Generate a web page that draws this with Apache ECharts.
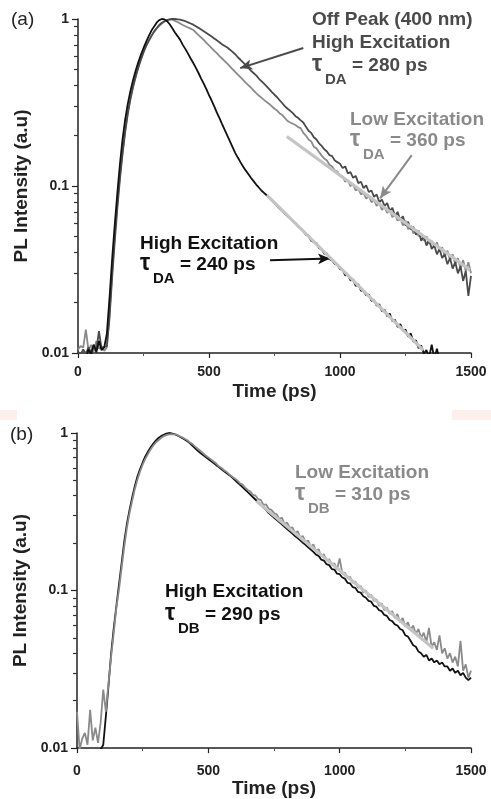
<!DOCTYPE html>
<html>
<head>
<meta charset="utf-8">
<script src="https://cdn.jsdelivr.net/npm/echarts@6/dist/echarts.min.js"></script>
<style>
  html, body { margin: 0; padding: 0; background: #fff; }
  #chart { width: 491px; height: 799px; }
</style>
</head>
<body>
<div id="chart"></div>
<script>
// time axis (ps), one sample every 10 ps
const time = [
  0, 10, 20, 30, 40, 50, 60, 70, 80, 90, 100,
  110, 120, 130, 140, 150, 160, 170, 180, 190, 200,
  210, 220, 230, 240, 250, 260, 270, 280, 290, 300,
  310, 320, 330, 340, 350, 360, 370, 380, 390, 400,
  410, 420, 430, 440, 450, 460, 470, 480, 490, 500,
  510, 520, 530, 540, 550, 560, 570, 580, 590, 600,
  610, 620, 630, 640, 650, 660, 670, 680, 690, 700,
  710, 720, 730, 740, 750, 760, 770, 780, 790, 800,
  810, 820, 830, 840, 850, 860, 870, 880, 890, 900,
  910, 920, 930, 940, 950, 960, 970, 980, 990, 1000,
  1010, 1020, 1030, 1040, 1050, 1060, 1070, 1080, 1090, 1100,
  1110, 1120, 1130, 1140, 1150, 1160, 1170, 1180, 1190, 1200,
  1210, 1220, 1230, 1240, 1250, 1260, 1270, 1280, 1290, 1300,
  1310, 1320, 1330, 1340, 1350, 1360, 1370, 1380, 1390, 1400,
  1410, 1420, 1430, 1440, 1450, 1460, 1470, 1480, 1490, 1500
];

// (a) on peak, high excitation (black)
const aHigh = [
  0.009, 0.0095, 0.0098, 0.0092, 0.0105, 0.0098, 0.0112, 0.0101, 0.0118, 0.0104, 0.0108,
  0.013, 0.021, 0.036, 0.058, 0.09, 0.135, 0.19, 0.25, 0.31, 0.37,
  0.43, 0.49, 0.55, 0.61, 0.67, 0.73, 0.79, 0.85, 0.9, 0.95,
  0.985, 1.0, 0.995, 0.97, 0.93, 0.88, 0.83, 0.79, 0.75, 0.70,
  0.66, 0.62, 0.58, 0.545, 0.51, 0.475, 0.44, 0.41, 0.38, 0.35,
  0.325, 0.3, 0.275, 0.255, 0.235, 0.217, 0.2, 0.185, 0.171, 0.158,
  0.148, 0.139, 0.131, 0.124, 0.118, 0.112, 0.107, 0.102, 0.098, 0.094,
  0.091, 0.088, 0.085, 0.082, 0.079, 0.076, 0.073, 0.071, 0.068, 0.066,
  0.064, 0.0615, 0.0598, 0.0572, 0.0556, 0.0538, 0.051, 0.0505, 0.047, 0.0462,
  0.0455, 0.0425, 0.0418, 0.0392, 0.0395, 0.0365, 0.0358, 0.0342, 0.0338, 0.0318,
  0.0315, 0.0292, 0.0294, 0.0272, 0.0276, 0.0252, 0.0258, 0.0236, 0.0234, 0.0222,
  0.0224, 0.0205, 0.0207, 0.0192, 0.0196, 0.0178, 0.0181, 0.0166, 0.0172, 0.0155,
  0.0158, 0.0143, 0.0149, 0.0136, 0.0138, 0.0125, 0.0131, 0.0117, 0.0119, 0.0107,
  0.0111, 0.0099, 0.0104, 0.0094, 0.0112, 0.0093, 0.0106, 0.0091, 0.0088, 0.0086,
  0.0085, 0.0084, 0.0083, 0.0082, 0.0081, 0.008, 0.0079, 0.0078, 0.0077, 0.0076
];

// (a) off peak (400 nm), high excitation (dark grey)
const aOffPeak = [
  0.0102, 0.0098, 0.0105, 0.0099, 0.0108, 0.0101, 0.0112, 0.0104, 0.0135, 0.0106, 0.0109,
  0.011, 0.016, 0.028, 0.046, 0.073, 0.11, 0.155, 0.21, 0.27, 0.33,
  0.39, 0.45, 0.51, 0.57, 0.63, 0.69, 0.74, 0.79, 0.84, 0.88,
  0.92, 0.95, 0.97, 0.985, 0.995, 1.0, 1.0, 0.995, 0.99, 0.98,
  0.97, 0.955, 0.94, 0.925, 0.905, 0.885, 0.865, 0.845, 0.825, 0.805,
  0.785, 0.765, 0.745, 0.725, 0.705, 0.69, 0.675, 0.655, 0.635, 0.615,
  0.59, 0.57, 0.55, 0.53, 0.51, 0.49, 0.475, 0.46, 0.44, 0.425,
  0.41, 0.395, 0.38, 0.365, 0.352, 0.34, 0.326, 0.313, 0.3, 0.29,
  0.282, 0.273, 0.262, 0.256, 0.247, 0.24, 0.226, 0.214, 0.208, 0.196,
  0.19, 0.18, 0.174, 0.166, 0.161, 0.153, 0.151, 0.142, 0.139, 0.136,
  0.128, 0.131, 0.119, 0.121, 0.112, 0.115, 0.104, 0.106, 0.097, 0.101,
  0.092, 0.094, 0.086, 0.089, 0.08, 0.083, 0.076, 0.079, 0.071, 0.074,
  0.066, 0.07, 0.062, 0.066, 0.058, 0.061, 0.055, 0.057, 0.051, 0.054,
  0.047, 0.05, 0.044, 0.048, 0.042, 0.044, 0.039, 0.042, 0.037, 0.039,
  0.034, 0.037, 0.032, 0.035, 0.03, 0.033, 0.027, 0.031, 0.022, 0.029
];

// (a) on peak, low excitation (grey)
const aLow = [
  0.0105, 0.011, 0.0108, 0.0138, 0.0104, 0.0112, 0.0102, 0.0118, 0.0106, 0.011, 0.0103,
  0.0108, 0.017, 0.03, 0.05, 0.078, 0.115, 0.16, 0.215, 0.275, 0.335,
  0.395, 0.455, 0.515, 0.575, 0.635, 0.69, 0.74, 0.79, 0.835, 0.875,
  0.91, 0.94, 0.965, 0.985, 0.995, 0.99, 0.975, 0.96, 0.94, 0.92,
  0.905, 0.89, 0.875, 0.86, 0.83, 0.8, 0.775, 0.75, 0.72, 0.695,
  0.67, 0.645, 0.625, 0.6, 0.58, 0.56, 0.54, 0.52, 0.5, 0.483,
  0.465, 0.448, 0.432, 0.416, 0.402, 0.388, 0.374, 0.36, 0.348, 0.338,
  0.328, 0.318, 0.31, 0.3, 0.29, 0.283, 0.272, 0.266, 0.255, 0.245,
  0.24, 0.236, 0.232, 0.225, 0.222, 0.208, 0.2, 0.19, 0.185, 0.172,
  0.168, 0.16, 0.152, 0.146, 0.142, 0.134, 0.131, 0.124, 0.122, 0.115,
  0.114, 0.106, 0.108, 0.1, 0.102, 0.094, 0.096, 0.089, 0.091, 0.084,
  0.087, 0.08, 0.082, 0.076, 0.079, 0.072, 0.075, 0.069, 0.072, 0.065,
  0.068, 0.062, 0.065, 0.058, 0.062, 0.055, 0.058, 0.052, 0.055, 0.05,
  0.052, 0.047, 0.05, 0.045, 0.047, 0.043, 0.046, 0.041, 0.043, 0.038,
  0.041, 0.036, 0.039, 0.034, 0.037, 0.032, 0.036, 0.031, 0.035, 0.03
];

// (b) high excitation (black)
const bHigh = [
  0.009, 0.0092, 0.0088, 0.0094, 0.009, 0.0093, 0.0089, 0.0095, 0.0092, 0.0098, 0.0105,
  0.016, 0.025, 0.04, 0.058, 0.08, 0.11, 0.15, 0.205, 0.265, 0.325,
  0.39, 0.46, 0.53, 0.59, 0.65, 0.71, 0.76, 0.81, 0.855, 0.895,
  0.93, 0.955, 0.975, 0.99, 1.0, 0.995, 0.985, 0.97, 0.95, 0.93,
  0.91, 0.885, 0.86, 0.83, 0.8, 0.77, 0.745, 0.724, 0.703, 0.683,
  0.663, 0.644, 0.625, 0.607, 0.589, 0.572, 0.556, 0.54, 0.523, 0.505,
  0.487, 0.47, 0.453, 0.437, 0.421, 0.406, 0.391, 0.377, 0.363, 0.35,
  0.337, 0.324, 0.31, 0.30, 0.29, 0.281, 0.272, 0.263, 0.254, 0.246,
  0.238, 0.23, 0.222, 0.215, 0.208, 0.201, 0.195, 0.188, 0.182, 0.176,
  0.169, 0.166, 0.157, 0.155, 0.147, 0.145, 0.137, 0.136, 0.128, 0.127,
  0.121, 0.119, 0.112, 0.111, 0.105, 0.104, 0.098, 0.097, 0.092, 0.09,
  0.086, 0.085, 0.08, 0.079, 0.075, 0.074, 0.07, 0.069, 0.065, 0.064,
  0.061, 0.06, 0.057, 0.056, 0.052, 0.051, 0.048, 0.045, 0.044, 0.041,
  0.04, 0.038, 0.039, 0.036, 0.037, 0.035, 0.036, 0.034, 0.035, 0.033,
  0.033, 0.031, 0.032, 0.03, 0.031, 0.029, 0.03, 0.028, 0.027, 0.028
];

// (b) low excitation (grey)
const bLow = [
  0.017, 0.0098, 0.0115, 0.0125, 0.0105, 0.0175, 0.0112, 0.0135, 0.0108, 0.0145, 0.0235,
  0.017, 0.026, 0.038, 0.054, 0.078, 0.102, 0.14, 0.19, 0.25, 0.31,
  0.37, 0.44, 0.505, 0.57, 0.63, 0.685, 0.735, 0.785, 0.83, 0.87,
  0.9, 0.93, 0.955, 0.97, 0.98, 0.985, 0.98, 0.975, 0.955, 0.94,
  0.92, 0.9, 0.87, 0.85, 0.82, 0.795, 0.77, 0.745, 0.72, 0.7,
  0.68, 0.66, 0.64, 0.615, 0.6, 0.58, 0.565, 0.545, 0.53, 0.515,
  0.5, 0.48, 0.47, 0.45, 0.435, 0.425, 0.405, 0.4, 0.38, 0.375,
  0.35, 0.352, 0.33, 0.325, 0.31, 0.305, 0.285, 0.29, 0.265, 0.27,
  0.25, 0.252, 0.232, 0.238, 0.218, 0.222, 0.203, 0.208, 0.19, 0.196,
  0.178, 0.183, 0.165, 0.17, 0.155, 0.158, 0.146, 0.149, 0.136, 0.16,
  0.128, 0.13, 0.12, 0.122, 0.112, 0.114, 0.104, 0.107, 0.097, 0.1,
  0.091, 0.094, 0.086, 0.088, 0.08, 0.083, 0.075, 0.078, 0.071, 0.074,
  0.067, 0.071, 0.063, 0.067, 0.059, 0.063, 0.056, 0.06, 0.053, 0.057,
  0.05, 0.054, 0.047, 0.058, 0.044, 0.047, 0.042, 0.052, 0.04, 0.043,
  0.037, 0.04, 0.035, 0.038, 0.033, 0.048, 0.031, 0.034, 0.028, 0.031
];

// exponential fits (end points)
const aFitHighT = [721, 1318];
const aFitHighV = [0.0883, 0.0104];
const aFitLowT = [797, 1496];
const aFitLowV = [0.198, 0.0314];
const bFitT = [683, 1356];
const bFitV = [0.37, 0.043];

const xTicks = [0, 500, 1000, 1500];
const yMinor = [0.02, 0.03, 0.04, 0.05, 0.06, 0.07, 0.08, 0.09,
                0.2, 0.3, 0.4, 0.5, 0.6, 0.7, 0.8, 0.9];

const FONT = 'Liberation Sans, Arial, Helvetica, sans-serif';
const AXIS = '#222';

function pairs(t, v) {
  return t.map((x, i) => [x, v[i]]);
}

function xAxisFor(gridIndex, labelMargin, nameGap) {
  return {
    gridIndex: gridIndex,
    type: 'value',
    min: xTicks[0],
    max: xTicks[xTicks.length - 1],
    interval: 500,
    name: 'Time (ps)',
    nameLocation: 'middle',
    nameGap: nameGap,
    nameTextStyle: { fontFamily: FONT, fontWeight: 'bold', fontSize: 19, color: AXIS },
    axisLine: { lineStyle: { color: AXIS, width: 1.5 } },
    axisTick: { length: 5, lineStyle: { color: AXIS, width: 1.2 } },
    minorTick: { show: true, splitNumber: 2, length: 3, lineStyle: { color: '#555', width: 1 } },
    axisLabel: {
      margin: labelMargin, fontFamily: FONT, fontWeight: 'bold', fontSize: 14, color: AXIS,
      formatter: v => String(v)
    },
    splitLine: { show: false }
  };
}

function yAxisFor(gridIndex) {
  return {
    gridIndex: gridIndex,
    type: 'log',
    logBase: 10,
    min: 0.01,
    max: 1,
    name: 'PL Intensity (a.u)',
    nameLocation: 'middle',
    nameGap: 36,
    nameTextStyle: { fontFamily: FONT, fontWeight: 'bold', fontSize: 19, color: AXIS },
    axisLine: { show: true, lineStyle: { color: AXIS, width: 1.5 } },
    axisTick: { show: true, length: 6, lineStyle: { color: AXIS, width: 1.2 } },
    axisLabel: {
      margin: 9, fontFamily: FONT, fontWeight: 'bold', fontSize: 14, color: AXIS,
      formatter: v => String(parseFloat(Number(v).toPrecision(1)))
    },
    splitLine: { show: false }
  };
}

// overlaid axis that only carries the 2..9 ticks of each decade
function yMinorAxisFor(gridIndex) {
  return {
    gridIndex: gridIndex,
    type: 'log',
    logBase: 10,
    min: 0.01,
    max: 1,
    position: 'left',
    axisLine: { show: false },
    axisTick: { show: true, length: 4, customValues: yMinor, lineStyle: { color: '#333', width: 1.2 } },
    axisLabel: { show: false },
    splitLine: { show: false }
  };
}

function dataLine(gridIndex, t, v, color, z) {
  return {
    type: 'line', xAxisIndex: gridIndex, yAxisIndex: gridIndex,
    data: pairs(t, v), showSymbol: false, symbol: 'none', clip: true,
    lineStyle: { color: color, width: 1.8 }, z: z, animation: false
  };
}

function fitLine(gridIndex, t, v) {
  return {
    type: 'line', xAxisIndex: gridIndex, yAxisIndex: gridIndex,
    data: pairs(t, v), showSymbol: false, symbol: 'none',
    lineStyle: { color: '#c4c4c4', width: 3.2 }, z: 10, animation: false
  };
}

function arrow(gridIndex, from, to, color) {
  return {
    type: 'line', xAxisIndex: gridIndex, yAxisIndex: gridIndex, data: [],
    markLine: {
      silent: true, animation: false,
      symbol: ['none', 'arrow'], symbolSize: [8, 12],
      label: { show: false },
      lineStyle: { color: color, width: 2, type: 'solid' },
      data: [[{ coord: from }, { coord: to }]]
    },
    z: 12
  };
}

function text(x, y, str, color, size, weight) {
  return {
    type: 'text', left: x, top: y - size * 0.6, z: 100,
    style: {
      text: str, fill: color,
      font: (weight || 'bold') + ' ' + size + 'px ' + FONT
    }
  };
}

function tau(x, y, sub, rest, color) {
  return [
    text(x, y - 1, 'τ', color, 23),
    text(x + 13, y + 13, sub, color, 15),
    text(x + 40, y, rest, color, 19)
  ];
}

const DARK = '#4a4a4a';
const GREY = '#8a8a8a';
const BLACK = '#111';

const chart = echarts.init(document.getElementById('chart'), null, { renderer: 'canvas' });

chart.setOption({
  backgroundColor: '#fff',
  animation: false,
  grid: [
    { left: 78, top: 19, width: 393, height: 334 },
    { left: 77, top: 433, width: 394, height: 325 }
  ],
  xAxis: [xAxisFor(0, 12, 29), xAxisFor(1, 16, 26)],
  yAxis: [yAxisFor(0), yAxisFor(1), yMinorAxisFor(0), yMinorAxisFor(1)],
  series: [
    dataLine(0, time, aLow, GREY, 3),
    dataLine(0, time, aOffPeak, DARK, 4),
    dataLine(0, time, aHigh, BLACK, 5),
    fitLine(0, aFitHighT, aFitHighV),
    fitLine(0, aFitLowT, aFitLowV),
    arrow(0, [860, 0.67], [619, 0.508], DARK),
    arrow(0, [1274, 0.153], [1153, 0.0844], GREY),
    arrow(0, [733, 0.0359], [962, 0.0368], BLACK),

    dataLine(1, time, bHigh, BLACK, 3),
    dataLine(1, time, bLow, GREY, 4),
    fitLine(1, bFitT, bFitV)
  ],
  graphic: [
    { type: 'rect', shape: { x: 0, y: 410, width: 17, height: 10 }, style: { fill: '#fcefec' } },
    { type: 'rect', shape: { x: 452, y: 410, width: 39, height: 10 }, style: { fill: '#fcefec' } },
    text(11, 22, '(a)', AXIS, 19, 'normal'),
    text(10, 437, '(b)', AXIS, 19, 'normal'),

    text(312, 22, 'Off Peak (400 nm)', DARK, 19),
    text(312, 45, 'High Excitation', DARK, 19),
    ...tau(312, 68, 'DA', '= 280 ps', DARK),

    text(350, 122, 'Low Excitation', GREY, 19),
    ...tau(350, 143, 'DA', '= 360 ps', GREY),

    text(140, 246, 'High Excitation', BLACK, 19),
    ...tau(140, 267, 'DA', '= 240 ps', BLACK),

    text(295, 475, 'Low Excitation', GREY, 19),
    ...tau(295, 497, 'DB', '= 310 ps', GREY),

    text(165, 594, 'High Excitation', BLACK, 19),
    ...tau(165, 617, 'DB', '= 290 ps', BLACK)
  ]
});
</script>
</body>
</html>
